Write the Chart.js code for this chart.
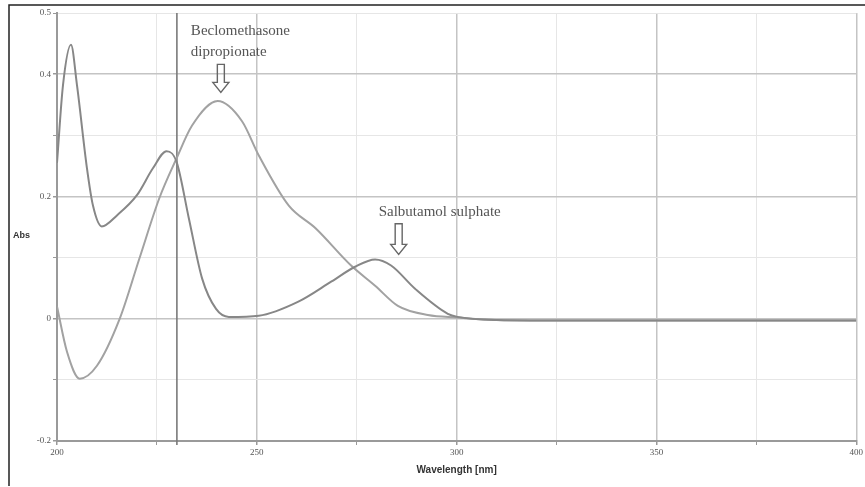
<!DOCTYPE html>
<html>
<head>
<meta charset="utf-8">
<script src="https://cdn.jsdelivr.net/npm/chart.js@4/dist/chart.umd.min.js"></script>
<style>
  html, body { margin: 0; padding: 0; background: #fff; }
  #wrap { position: relative; width: 865px; height: 487px; }
</style>
</head>
<body>
<div id="wrap"><canvas id="myChart" width="865" height="487"></canvas></div>
<script>
// SPECTRA DATA
const salbX = [200, 201.5, 203.5, 205, 207.5, 209, 211.2, 215, 220, 224, 227.4, 229.9, 233, 236.3, 239.8, 243, 250.5, 260.4, 268.7, 274.6, 279.6, 283.6, 289.6, 297.8, 300.2, 310, 330, 360, 400];
const salbY = [0.255, 0.382, 0.448, 0.382, 0.246, 0.185, 0.151, 0.169, 0.202, 0.246, 0.274, 0.257, 0.164, 0.066, 0.016, 0.003, 0.005, 0.028, 0.061, 0.085, 0.097, 0.087, 0.049, 0.008, 0.003, -0.002, -0.003, -0.003, -0.003];

const beclX = [200, 202.5, 205.7, 210, 215.7, 220.6, 225.6, 229.9, 233.8, 240.2, 246.3, 250.5, 258, 264.7, 273.6, 279.6, 285.3, 292.8, 300.2, 310, 330, 360, 400];
const beclY = [0.02, -0.054, -0.098, -0.077, 0.0, 0.098, 0.197, 0.262, 0.316, 0.356, 0.323, 0.267, 0.185, 0.148, 0.087, 0.054, 0.021, 0.006, 0.002, -0.002, -0.003, -0.003, -0.003];

const xTickLabels = [200, 250, 300, 350, 400];
const yTickLabels = [0.5, 0.4, 0.2, 0, -0.2];
const cursorX = 230;

// annotations: [text lines, lambda, abs] + arrow tip
const beclNote = { lines: ['Beclomethasone', 'dipropionate'], x: 233.5, y: 0.47, tipX: 241, tipY: 0.362 };
const salbNote = { lines: ['Salbutamol sulphate'], x: 280.5, y: 0.175, tipX: 285.5, tipY: 0.097 };

const toPoints = (xs, ys) => xs.map((x, i) => ({x: x, y: ys[i]}));

const isMajorX = v => Math.round(v) % 50 === 0;
const isMajorY = v => Math.round(v * 10) % 2 === 0;

// frame, cursor line, axis titles and annotations
const extras = {
    id: 'extras',
    beforeDatasetsDraw(chart) {
        const {ctx, chartArea, scales} = chart;
        const x = scales.x.getPixelForValue(cursorX);
        ctx.save();
        ctx.strokeStyle = '#7a7a7a';
        ctx.lineWidth = 1.6;
        ctx.beginPath();
        ctx.moveTo(x, chartArea.top);
        ctx.lineTo(x, chartArea.bottom + 4);
        ctx.stroke();
        ctx.restore();
    },
    afterDraw(chart) {
        const {ctx, chartArea, scales} = chart;
        ctx.save();
        // outer picture frame
        ctx.strokeStyle = '#222';
        ctx.lineWidth = 1.5;
        ctx.beginPath();
        ctx.moveTo(9, 486);
        ctx.lineTo(9, 5);
        ctx.lineTo(865, 5);
        ctx.stroke();

        // axis titles
        ctx.fillStyle = '#333';
        ctx.font = 'bold 9px "Liberation Sans", sans-serif';
        ctx.textBaseline = 'middle';
        ctx.textAlign = 'left';
        ctx.fillText('Abs', 13, 236);
        ctx.textAlign = 'center';
        ctx.font = 'bold 10px "Liberation Sans", sans-serif';
        ctx.fillText('Wavelength [nm]', (chartArea.left + chartArea.right) / 2, 470);

        // notes
        [beclNote, salbNote].forEach(function (n) {
            const px = scales.x.getPixelForValue(n.x);
            const py = scales.y.getPixelForValue(n.y);
            ctx.fillStyle = '#555';
            ctx.font = '15px "Liberation Serif", serif';
            ctx.textAlign = 'left';
            ctx.textBaseline = 'middle';
            n.lines.forEach(function (line, i) {
                ctx.fillText(line, px, py + i * 21);
            });
            const tx = scales.x.getPixelForValue(n.tipX);
            const ty = scales.y.getPixelForValue(n.tipY) - 5;
            const topY = py + (n.lines.length - 1) * 21 + 12;
            ctx.strokeStyle = '#666';
            ctx.lineWidth = 1.4;
            ctx.beginPath();
            ctx.moveTo(tx - 3.5, topY);
            ctx.lineTo(tx + 3.5, topY);
            ctx.lineTo(tx + 3.5, ty - 10);
            ctx.lineTo(tx + 8, ty - 10);
            ctx.lineTo(tx, ty);
            ctx.lineTo(tx - 8, ty - 10);
            ctx.lineTo(tx - 3.5, ty - 10);
            ctx.closePath();
            ctx.stroke();
        });
        ctx.restore();
    }
};

let ctx = document.getElementById('myChart');
let chart = new Chart(ctx, {
    type: 'line',
    data: {
        datasets: [
            {
                label: 'Salbutamol sulphate',
                data: toPoints(salbX, salbY),
                borderColor: '#878787',
                borderWidth: 2,
                pointRadius: 0,
                cubicInterpolationMode: 'monotone',
                fill: false
            },
            {
                label: 'Beclomethasone dipropionate',
                data: toPoints(beclX, beclY),
                borderColor: '#a2a2a2',
                borderWidth: 2,
                pointRadius: 0,
                cubicInterpolationMode: 'monotone',
                fill: false
            }
        ]
    },
    options: {
        responsive: false,
        animation: false,
        layout: { padding: { top: 13, right: 3, left: 0, bottom: 0 } },
        plugins: { legend: { display: false }, tooltip: { enabled: false } },
        scales: {
            x: {
                type: 'linear',
                min: 200,
                max: 400,
                afterFit: scale => { scale.height = 46; },
                ticks: {
                    stepSize: 25,
                    autoSkip: false,
                    maxRotation: 0,
                    color: '#555',
                    font: { size: 9, family: '"Liberation Serif", serif' },
                    padding: 2,
                    callback: v => xTickLabels.includes(v) ? String(v) : ''
                },
                grid: {
                    color: c => isMajorX(c.tick.value) ? '#c4c4c4' : '#e6e6e6',
                    lineWidth: c => isMajorX(c.tick.value) ? 1.5 : 1,
                    tickLength: 4,
                    tickColor: '#999'
                },
                border: { color: '#9a9a9a', width: 2 }
            },
            y: {
                min: -0.2,
                max: 0.5,
                afterFit: scale => { scale.width = 57; },
                ticks: {
                    stepSize: 0.1,
                    autoSkip: false,
                    color: '#555',
                    font: { size: 9, family: '"Liberation Serif", serif' },
                    padding: 2,
                    callback: function (v) {
                        const r = Math.round(v * 10) / 10;
                        return yTickLabels.includes(r) ? String(r) : '';
                    }
                },
                grid: {
                    color: c => isMajorY(c.tick.value) ? '#c4c4c4' : '#e6e6e6',
                    lineWidth: c => isMajorY(c.tick.value) ? 1.5 : 1,
                    tickLength: 4,
                    tickColor: '#999'
                },
                border: { color: '#9a9a9a', width: 2 }
            }
        }
    },
    plugins: [extras]
});
</script>
</body>
</html>
